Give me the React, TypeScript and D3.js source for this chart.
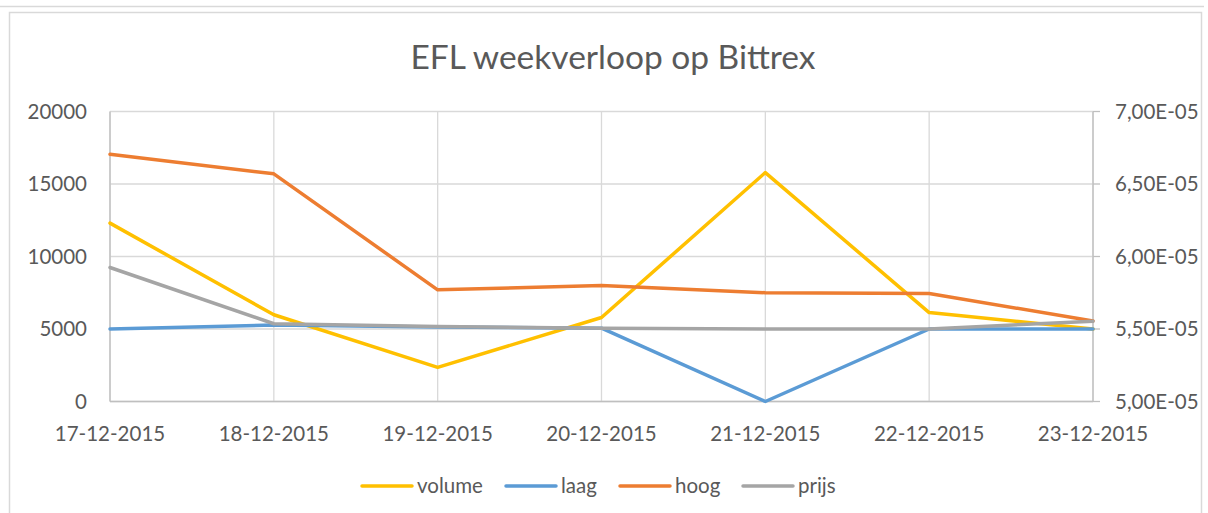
import React from "react";
import * as d3 from "d3";

const W = 1208;
const H = 513;
const FONT = "Lato, 'Open Sans', sans-serif";
const TEXT = "#595959";
const GRID = "#D9D9D9";
const AXIS = "#BFBFBF";

// data
const dates = ["17-12-2015", "18-12-2015", "19-12-2015", "20-12-2015", "21-12-2015", "22-12-2015", "23-12-2015"];
const volume = [12300, 5980, 2350, 5790, 15790, 6130, 5000];
const laag = [5.5e-5, 5.527e-5, 5.513e-5, 5.506e-5, 5.0e-5, 5.5e-5, 5.5e-5];
const hoog = [6.705e-5, 6.57e-5, 5.77e-5, 5.8e-5, 5.75e-5, 5.745e-5, 5.555e-5];
const prijs = [5.924e-5, 5.536e-5, 5.517e-5, 5.506e-5, 5.5e-5, 5.5e-5, 5.554e-5];
const leftTicks = [0, 5000, 10000, 15000, 20000];
const rightTicks = [5.0e-5, 5.5e-5, 6.0e-5, 6.5e-5, 7.0e-5];

const series = [
  { name: "volume", values: volume, color: "#FFC000", axis: "left" },
  { name: "laag", values: laag, color: "#5B9BD5", axis: "right" },
  { name: "hoog", values: hoog, color: "#ED7D31", axis: "right" },
  { name: "prijs", values: prijs, color: "#A5A5A5", axis: "right" },
];

// Excel style scientific format: 5,00E-05
const sci = (v: number) => {
  const [m, e] = v.toExponential(2).split("e");
  const n = Math.abs(+e);
  return m.replace(".", ",") + "E" + (+e < 0 ? "-" : "+") + String(n).padStart(2, "0");
};

export default function App() {
  const left = 110, right = 1093, top = 111.5, bottom = 401.5;
  const x = d3.scalePoint<string>().domain(dates).range([left, right]);
  const yL = d3.scaleLinear().domain([0, 20000]).range([bottom, top]);
  const yR = d3.scaleLinear().domain([5e-5, 7e-5]).range([bottom, top]);

  const legendX = [362, 506, 620, 743];

  return (
    <svg width={W} height={H} style={{ position: "absolute", left: 0, top: 0, background: "#fff" }} fontFamily={FONT}>
      <line x1={0} x2={1204} y1={6.5} y2={6.5} stroke={GRID} strokeWidth={1.5} />
      <rect x={9.5} y={12.5} width={1192} height={520} fill="#fff" stroke={GRID} strokeWidth={1.5} />

      <text x={613} y={69} textAnchor="middle" fontSize={33.5} fill={TEXT}>EFL weekverloop op Bittrex</text>

      {/* gridlines */}
      {leftTicks.map((t) => (
        <line key={"h" + t} x1={left} x2={right} y1={yL(t)} y2={yL(t)} stroke={GRID} strokeWidth={1.3} />
      ))}
      {dates.map((d) => (
        <line key={"v" + d} x1={x(d)} x2={x(d)} y1={top} y2={bottom} stroke={GRID} strokeWidth={1.3} />
      ))}

      {/* axes */}
      <line x1={left} x2={left} y1={top} y2={bottom} stroke={AXIS} strokeWidth={1.3} />
      <line x1={right} x2={right} y1={top} y2={bottom} stroke={AXIS} strokeWidth={1.3} />
      <line x1={left} x2={right} y1={bottom} y2={bottom} stroke={AXIS} strokeWidth={1.3} />
      {rightTicks.map((t) => (
        <line key={"rt" + t} x1={right} x2={right + 7} y1={yR(t)} y2={yR(t)} stroke={AXIS} strokeWidth={1.3} />
      ))}

      {leftTicks.map((t) => (
        <text key={"lt" + t} x={87} y={yL(t)} dy="0.35em" textAnchor="end" fontSize={20.5} fill={TEXT}>{t}</text>
      ))}
      {rightTicks.map((t) => (
        <text key={"rl" + t} x={1115} y={yR(t)} dy="0.35em" textAnchor="start" fontSize={20.5} fill={TEXT}>{sci(t)}</text>
      ))}
      {dates.map((d) => (
        <text key={"xl" + d} x={x(d)} y={441} textAnchor="middle" fontSize={20.5} fill={TEXT}>{d}</text>
      ))}

      {/* series */}
      {series.map((s) => {
        const y = s.axis === "left" ? yL : yR;
        const line = d3.line<number>().x((_, i) => x(dates[i])!).y((v) => y(v));
        return (
          <path key={s.name} d={line(s.values)!} fill="none" stroke={s.color} strokeWidth={3.5} strokeLinejoin="round" strokeLinecap="round" />
        );
      })}

      {/* legend */}
      {series.map((s, i) => (
        <g key={"lg" + s.name} transform={`translate(${legendX[i]},486)`}>
          <line x1={0} x2={50} y1={0} y2={0} stroke={s.color} strokeWidth={3.5} strokeLinecap="round" />
          <text x={55} y={0} dy="0.35em" fontSize={20.5} fill={TEXT}>{s.name}</text>
        </g>
      ))}
    </svg>
  );
}
